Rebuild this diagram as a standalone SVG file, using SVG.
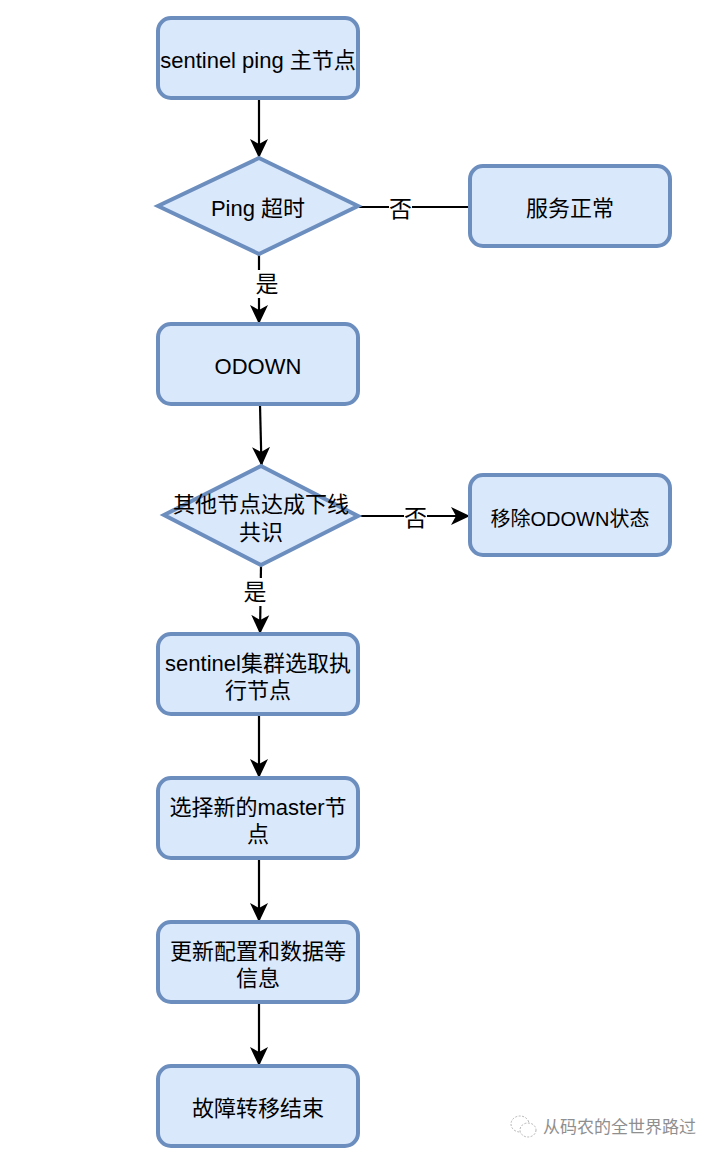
<svg xmlns="http://www.w3.org/2000/svg" width="718" height="1158" viewBox="0 0 718 1158">
<style>
.n{fill:#dae8fc;stroke:#6c8ebf;stroke-width:4}
.t{font-family:"Liberation Sans","Noto Sans CJK SC",sans-serif;font-size:22px;fill:#000;text-anchor:middle}
.l{font-family:"Noto Sans CJK SC","Liberation Sans",sans-serif;font-size:23px;fill:#000;text-anchor:middle}
.c{fill:none;stroke:#000;stroke-width:2.2}
.w{font-family:"Noto Sans CJK SC",sans-serif;font-size:17px;fill:#8f8f8f}
.i{fill:#fff;stroke:#b5b5b5;stroke-width:1;stroke-dasharray:2 1.5}
</style>
<defs>
<marker id="a" viewBox="0 0 20 20" refX="19" refY="10" markerWidth="20" markerHeight="20" markerUnits="userSpaceOnUse" orient="auto"><path d="M0 1 L19 10 L0 19 L5 10 Z" fill="#000"/></marker>
</defs>
<rect width="718" height="1158" fill="#fff"/>
<g id="connectors">
<path class="c" d="M259 99V158" marker-end="url(#a)"/>
<path class="c" d="M359 207H470"/>
<path class="c" d="M259 255V324" marker-end="url(#a)"/>
<path class="c" d="M260 405L261.500 466" marker-end="url(#a)"/>
<path class="c" d="M360 516H470" marker-end="url(#a)"/>
<path class="c" d="M261 566L260 634" marker-end="url(#a)"/>
<path class="c" d="M259 715V778" marker-end="url(#a)"/>
<path class="c" d="M259 859V922" marker-end="url(#a)"/>
<path class="c" d="M259 1003V1066" marker-end="url(#a)"/>
<g id="connector-labels">
<rect x="389" y="196" width="23" height="24" fill="#fff"/>
<text class="l" x="400.500" y="217">否</text>
<rect x="255" y="270" width="24" height="28" fill="#fff"/>
<text class="l" x="267" y="292">是</text>
<rect x="404" y="505" width="23" height="26" fill="#fff"/>
<text class="l" x="415.500" y="526">否</text>
<rect x="243" y="578" width="24" height="28" fill="#fff"/>
<text class="l" x="255" y="600">是</text>
</g>
</g>
<g id="n1"><rect class="n" x="158" y="18" width="200" height="80" rx="13"/><text class="t" x="258" y="68">sentinel ping 主节点</text></g>
<g id="n2"><path class="n" d="M259 158L358 206L259 254L158 206Z"/><text class="t" x="258" y="215.500">Ping 超时</text></g>
<g id="n3"><rect class="n" x="470" y="166" width="200" height="80" rx="13"/><text class="t" x="570" y="216">服务正常</text></g>
<g id="n4"><rect class="n" x="158" y="324" width="200" height="80" rx="13"/><text class="t" x="258" y="374">ODOWN</text></g>
<g id="n5"><path class="n" d="M261 466L358 516L261 565L164 515Z"/><text class="t" x="261" y="512">其他节点达成下线</text><text class="t" x="261" y="540">共识</text></g>
<g id="n6"><rect class="n" x="470" y="475" width="200" height="80" rx="13"/><text class="t" x="570" y="525.500" style="font-size:20px">移除ODOWN状态</text></g>
<g id="n7"><rect class="n" x="158" y="634" width="200" height="80" rx="13"/><text class="t" x="258" y="671">sentinel集群选取执</text><text class="t" x="258" y="698">行节点</text></g>
<g id="n8"><rect class="n" x="158" y="778" width="200" height="80" rx="13"/><text class="t" x="258" y="815">选择新的master节</text><text class="t" x="258" y="842">点</text></g>
<g id="n9"><rect class="n" x="158" y="922" width="200" height="80" rx="13"/><text class="t" x="258" y="959">更新配置和数据等</text><text class="t" x="258" y="986">信息</text></g>
<g id="n10"><rect class="n" x="158" y="1066" width="200" height="80" rx="13"/><text class="t" x="258" y="1116">故障转移结束</text></g>
<g id="watermark">
<ellipse class="i" cx="520" cy="1124" rx="9" ry="8"/>
<ellipse class="i" cx="528" cy="1130" rx="8" ry="7"/>
<text class="w" x="543" y="1133">从码农的全世界路过</text>
</g>
</svg>
